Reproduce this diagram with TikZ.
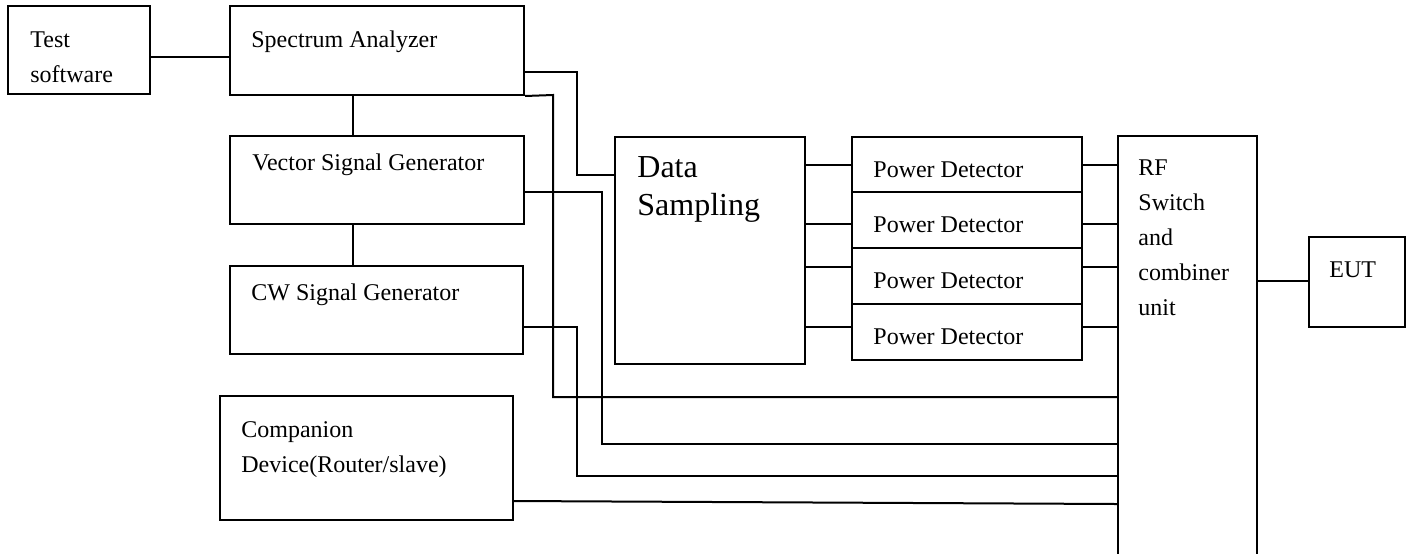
\documentclass[tikz,border=0pt]{standalone}
\usepackage{fontspec}
\setmainfont{Liberation Serif}
\usetikzlibrary{fit}
\tikzset{
  box/.style={draw, line width=1pt, inner sep=0pt},
  txt/.style={anchor=base west, align=left, inner sep=0pt, font=\fontsize{12}{17.4}\selectfont},
  bigtxt/.style={anchor=base west, align=left, inner sep=0pt, font=\fontsize{16}{19}\selectfont},
  wire/.style={line width=1pt}
}
\begin{document}
\begin{tikzpicture}[x=0.5pt,y=-0.5pt]
    \useasboundingbox (0,0) rectangle (1412,553);

    % 仪器
    \node[box, fit={(8,6) (150,94)}] (test) {};
    \node[box, fit={(230,6) (524,95)}] (sa) {};
    \node[box, fit={(230,136) (524,224)}] (vsg) {};
    \node[box, fit={(230,266) (523,354)}] (cw) {};
    \node[box, fit={(220,396) (513,520)}] (comp) {};
    \node[box, fit={(615,137) (805,364)}] (ds) {};
    \foreach \i/\ya/\yb in {1/137/192,2/192/248,3/248/304,4/304/360}
    \node[box, fit={(852,\ya) (1082,\yb)}] (pd\i) {};
    \node[box, fit={(1118,136) (1257,580)}] (rf) {};
    \node[box, fit={(1309,237) (1405,327)}] (eut) {};

    % 文字 (多行时以末行基线定位)
    \node[txt] (testtxt) at (30,82) {Test\\software};
    \node[txt] (satxt) at (251,47) {Spectrum Analyzer};
    \node[txt] (vsgtxt) at (252,170) {Vector Signal Generator};
    \node[txt] (cwtxt) at (251,300) {CW Signal Generator};
    \node[txt] (comptxt) at (241,472) {Companion\\Device(Router/slave)};
    \node[bigtxt] (dstxt) at (637,215) {Data\\Sampling};
    \foreach \i/\ya in {1/137,2/192,3/248,4/304}
    \node[txt] (pdtxt\i) at (873,\ya+40) {Power Detector};
    \node[txt] (rftxt) at (1138,315) {RF\\Switch\\and\\combiner\\unit};
    \node[txt] (euttxt) at (1329,277) {EUT};

    % 连线
    \draw[wire] (test.east |- 0,57) -- (sa.west |- 0,57);
    \draw[wire] (sa.south -| 353,0) -- (vsg.north -| 353,0);
    \draw[wire] (vsg.south -| 353,0) -- (cw.north -| 353,0);
    \draw[wire] (sa.east |- 0,72) -- (577,72) -- (577,175) -- (ds.west |- 0,175);
    \draw[wire] (sa.south east) -- (553,95) -- (553,397) -- (rf.west |- 0,397);
    \draw[wire] (vsg.east |- 0,192) -- (602,192) -- (602,444) -- (rf.west |- 0,444);
    \draw[wire] (cw.east |- 0,327) -- (577,327) -- (577,476) -- (rf.west |- 0,476);
    \draw[wire] (comp.east |- 0,501) -- (rf.west |- 0,504);
    \foreach \i/\y in {1/165,2/224,3/267,4/327} {
      \draw[wire] (ds.east |- 0,\y) -- (pd\i.west |- 0,\y);
      \draw[wire] (pd\i.east |- 0,\y) -- (rf.west |- 0,\y);
    }
    \draw[wire] (rf.east |- 0,281) -- (eut.west |- 0,281);
\end{tikzpicture}
\end{document}
